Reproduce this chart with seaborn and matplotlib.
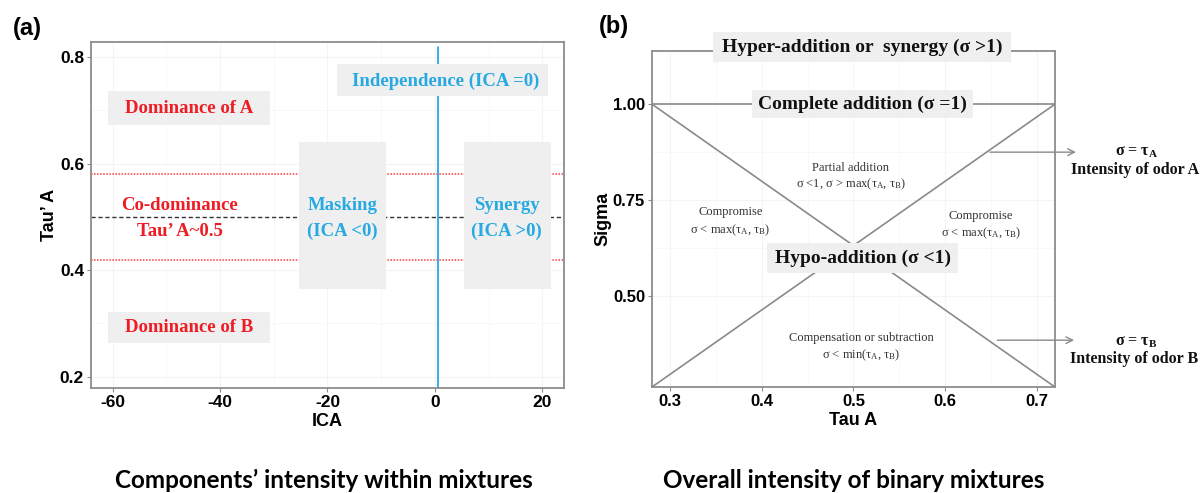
import matplotlib
matplotlib.use('Agg')
import matplotlib.pyplot as plt
import seaborn as sns
import numpy as np
import pandas as pd
from matplotlib.patches import Rectangle

# ---------------- Panel (a) data ----------------
ica_ticks = [-60, -40, -20, 0, 20]
tau_ticks = [0.2, 0.4, 0.6, 0.8]
codominance_bounds = [0.42, 0.58]
codominance_center = 0.5
independence_ica = 0.5

# ---------------- Panel (b) data ----------------
tauA_ticks = [0.3, 0.4, 0.5, 0.6, 0.7]
sigma_ticks = [0.50, 0.75, 1.00]
tauA_range = [0.28, 0.72]
sigma_eq_tauA = [0.263, 1.0]
sigma_eq_tauB = [1.0, 0.263]
complete_addition = [1.0, 1.0]

sns.set_theme(style='white')
plt.rcParams['font.family'] = ['Liberation Sans', 'DejaVu Sans']
plt.rcParams['text.color'] = 'black'
plt.rcParams['axes.labelcolor'] = 'black'
plt.rcParams['mathtext.fontset'] = 'custom'
plt.rcParams['mathtext.rm'] = 'Liberation Serif'
plt.rcParams['mathtext.it'] = 'Liberation Serif:italic'
plt.rcParams['mathtext.bf'] = 'Liberation Serif:bold'

RED = '#EE1C24'
BLUE = '#27A9E1'
GRAY = '#8c8c8c'
BOX = '#EFEFEF'
SERIF = ['Liberation Serif', 'DejaVu Serif']

fig = plt.figure(figsize=(12.04, 4.93), dpi=100)
axA = fig.add_axes([0.0756, 0.213, 0.3928, 0.7018])
axB = fig.add_axes([0.5415, 0.215, 0.3347, 0.6811])

def style_axes(ax, size):
    for s in ax.spines.values():
        s.set_color(GRAY)
        s.set_linewidth(1.3)
    ax.tick_params(axis='both', length=3, width=0.8, color=GRAY, labelsize=size,
                   pad=2, labelcolor='black', bottom=True, left=True)
    for lab in ax.get_xticklabels() + ax.get_yticklabels():
        lab.set_fontweight('bold')
    ax.grid(True, which='major', color='#f4f4f4', lw=0.8)
    ax.grid(True, which='minor', color='#f7f7f7', lw=0.6)
    ax.set_axisbelow(True)

# ======================= Panel (a) =======================
axA.set_xlim(-64, 24)
axA.set_ylim(0.179, 0.828)
axA.set_xticks(ica_ticks)
axA.set_yticks(tau_ticks)
axA.set_xticks([-50, -30, -10, 10], minor=True)
axA.set_yticks([0.3, 0.5, 0.7], minor=True)
axA.tick_params(which='minor', length=0)
axA.set_yticklabels([f'{v:.1f}' for v in tau_ticks])
axA.set_xticklabels([str(v) for v in ica_ticks])
style_axes(axA, 12.5)

for yv in codominance_bounds:
    axA.axhline(yv, color='#FF3A3A', ls=(0, (1, 1)), lw=1.1, zorder=2)
axA.axhline(codominance_center, color='#333333', ls=(0, (3, 2)), lw=1.0, zorder=2)
axA.axvline(independence_ica, ymin=0, ymax=0.986, color=BLUE, lw=1.3, zorder=2)

def rect(ax, x0, x1, y0, y1, clip=True):
    r = Rectangle((x0, y0), x1 - x0, y1 - y0, facecolor=BOX, edgecolor='none',
                  zorder=3, clip_on=clip)
    ax.add_patch(r)

rect(axA, -60.8, -30.7, 0.672, 0.736)
rect(axA, -60.8, -30.7, 0.263, 0.322)
rect(axA, -18.2, 21.0, 0.726, 0.786)
rect(axA, -25.3, -9.2, 0.365, 0.640)
rect(axA, 5.4, 21.6, 0.365, 0.640)

tkw = dict(family=SERIF, fontweight='bold', fontsize=13.5, ha='center', va='center', zorder=4)
axA.text(-45.7, 0.703, 'Dominance of A', color=RED, **tkw)
axA.text(-45.7, 0.292, 'Dominance of B', color=RED, **tkw)
axA.text(-47.5, 0.522, 'Co-dominance', color=RED, **tkw)
axA.text(-47.5, 0.472, 'Tau\u2019 A~0.5', color=RED, **tkw)
axA.text(-17.2, 0.522, 'Masking', color=BLUE, **tkw)
axA.text(-17.2, 0.472, '(ICA <0)', color=BLUE, **tkw)
axA.text(13.3, 0.522, 'Synergy', color=BLUE, **tkw)
axA.text(13.3, 0.472, '(ICA >0)', color=BLUE, **tkw)
axA.text(2.0, 0.755, 'Independence (ICA =0)', color=BLUE, **tkw)

axA.set_xlabel('ICA', fontsize=13, fontweight='bold', labelpad=2)
axA.set_ylabel('Tau\u2019 A', fontsize=13, fontweight='bold', labelpad=1)

# ======================= Panel (b) =======================
axB.set_xlim(0.28, 0.72)
axB.set_ylim(0.263, 1.138)
axB.set_xticks(tauA_ticks)
axB.set_yticks(sigma_ticks)
axB.set_xticks([0.35, 0.45, 0.55, 0.65], minor=True)
axB.set_yticks([0.625, 0.875], minor=True)
axB.tick_params(which='minor', length=0)
axB.set_xticklabels([f'{v:.1f}' for v in tauA_ticks])
axB.set_yticklabels([f'{v:.2f}' for v in sigma_ticks])
style_axes(axB, 12)

LC = '#8a8a8a'
sns.lineplot(x=tauA_range, y=sigma_eq_tauA, ax=axB, color=LC, lw=1.2, zorder=2)
sns.lineplot(x=tauA_range, y=sigma_eq_tauB, ax=axB, color=LC, lw=1.2, zorder=2)
sns.lineplot(x=tauA_range, y=complete_addition, ax=axB, color=LC, lw=1.2, zorder=2)

rect(axB, 0.347, 0.672, 1.109, 1.1875, clip=False)
rect(axB, 0.389, 0.630, 0.964, 1.036)
rect(axB, 0.406, 0.614, 0.560, 0.638)

bkw = dict(family=SERIF, fontweight='bold', fontsize=14, ha='center', va='center',
           zorder=4, color='#111111', clip_on=False)
axB.text(0.510, 1.148, 'Hyper-addition or  synergy (\u03c3 >1)', **bkw)
axB.text(0.510, 1.000, 'Complete addition (\u03c3 =1)', **bkw)
axB.text(0.510, 0.599, 'Hypo-addition (\u03c3 <1)', **bkw)

skw = dict(family=SERIF, fontsize=9, ha='center', va='center', zorder=4, color='#333333')
axB.text(0.497, 0.833, 'Partial addition', **skw)
axB.text(0.497, 0.790, '\u03c3 <1, \u03c3 > max(\u03c4$_{\\mathrm{A}}$, \u03c4$_{\\mathrm{B}}$)', **skw)
axB.text(0.366, 0.719, 'Compromise', **skw)
axB.text(0.366, 0.672, '\u03c3 < max(\u03c4$_{\\mathrm{A}}$, \u03c4$_{\\mathrm{B}}$)', **skw)
axB.text(0.639, 0.708, 'Compromise', **skw)
axB.text(0.639, 0.664, '\u03c3 < max(\u03c4$_{\\mathrm{A}}$, \u03c4$_{\\mathrm{B}}$)', **skw)
axB.text(0.509, 0.390, 'Compensation or subtraction', **skw)
axB.text(0.509, 0.346, '\u03c3 < min(\u03c4$_{\\mathrm{A}}$, \u03c4$_{\\mathrm{B}}$)', **skw)

akw = dict(arrowstyle='->', color=LC, lw=1.0, mutation_scale=12)
axB.annotate('', xy=(0.746, 0.875), xytext=(0.646, 0.875), arrowprops=akw, annotation_clip=False)
axB.annotate('', xy=(0.744, 0.385), xytext=(0.654, 0.385), arrowprops=akw, annotation_clip=False)

rkw = dict(family=SERIF, fontweight='bold', fontsize=11.5, ha='center', va='center',
           color='#111111', clip_on=False)
axB.text(0.809, 0.875, '\u03c3 = \u03c4$_{\\mathbf{A}}$', **rkw)
axB.text(0.807, 0.828, 'Intensity of odor A', **rkw)
axB.text(0.809, 0.380, '\u03c3 = \u03c4$_{\\mathbf{B}}$', **rkw)
axB.text(0.807, 0.337, 'Intensity of odor B', **rkw)

axB.set_xlabel('Tau A', fontsize=13, fontweight='bold', labelpad=2)
axB.set_ylabel('Sigma', fontsize=13, fontweight='bold', labelpad=1)

# ---------------- panel labels & titles ----------------
fig.text(0.011, 0.943, '(a)', fontsize=17, fontweight='bold', va='center', ha='left')
fig.text(0.497, 0.947, '(b)', fontsize=17, fontweight='bold', va='center', ha='left')
fig.text(0.269, 0.026, 'Components\u2019 intensity within mixtures', fontsize=17.5,
         fontweight='bold', family=['Lato', 'DejaVu Sans'], ha='center', va='center')
fig.text(0.709, 0.026, 'Overall intensity of binary mixtures', fontsize=17.5,
         fontweight='bold', family=['Lato', 'DejaVu Sans'], ha='center', va='center')

fig.savefig('out.png', dpi=100)
